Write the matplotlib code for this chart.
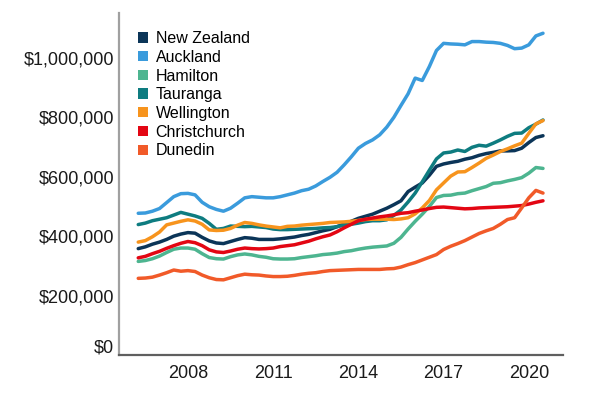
import numpy as np
import matplotlib
matplotlib.use("Agg")
import matplotlib.pyplot as plt
from matplotlib.patches import Patch
from matplotlib.transforms import ScaledTranslation

plt.rcParams['font.family'] = ['Liberation Sans', 'DejaVu Sans']

# ── DATA (median house price, $000, quarterly) ───────────────────────────────
years = np.arange(2006.25, 2020.51, 0.25)

new_zealand = [358, 364, 373, 380, 389, 400, 407, 412, 410, 396, 384, 377, 375, 382, 389,
               395, 393, 389, 389, 389, 391, 394, 397, 402, 406, 412, 418, 423, 432, 441,
               450, 460, 467, 474, 484, 494, 506, 519, 550, 565, 579, 605, 635, 643, 648,
               652, 659, 664, 672, 678, 682, 687, 687, 688, 696, 715, 732, 738]
auckland = [477, 478, 484, 493, 513, 533, 543, 544, 539, 514, 499, 490, 484, 494, 511,
            529, 533, 531, 529, 529, 533, 539, 545, 553, 558, 569, 584, 598, 615, 640,
            667, 696, 712, 724, 741, 767, 800, 840, 879, 932, 924, 971, 1025, 1049, 1047,
            1046, 1044, 1055, 1055, 1053, 1052, 1049, 1042, 1031, 1033, 1044, 1074, 1083]
hamilton = [315, 318, 324, 333, 345, 356, 360, 360, 356, 341, 328, 324, 323, 331, 337,
            340, 337, 332, 329, 324, 323, 323, 324, 328, 331, 334, 338, 340, 343, 348,
            351, 356, 360, 363, 365, 367, 376, 396, 424, 450, 474, 500, 530, 537, 538,
            543, 545, 553, 560, 567, 578, 580, 586, 591, 597, 612, 631, 628]
tauranga = [439, 444, 452, 457, 462, 471, 480, 474, 468, 460, 443, 423, 426, 434, 433,
            432, 433, 431, 429, 424, 422, 422, 423, 424, 425, 426, 428, 429, 432, 437,
            440, 444, 449, 452, 452, 455, 470, 488, 515, 545, 583, 622, 660, 680, 683,
            690, 685, 699, 706, 703, 713, 724, 736, 746, 747, 765, 777, 791]
wellington = [380, 385, 398, 414, 438, 444, 450, 455, 451, 440, 421, 419, 420, 426, 437,
              446, 443, 438, 434, 431, 428, 433, 434, 437, 439, 441, 443, 446, 447, 448,
              450, 453, 456, 457, 457, 457, 456, 458, 462, 475, 495, 520, 556, 579, 602,
              616, 617, 631, 646, 662, 673, 685, 694, 704, 713, 746, 778, 789]
christchurch = [327, 332, 341, 349, 359, 368, 376, 382, 378, 368, 354, 347, 345, 350, 356,
                360, 358, 357, 358, 360, 365, 368, 371, 377, 383, 391, 398, 404, 415, 428,
                440, 452, 457, 461, 465, 468, 472, 477, 479, 484, 488, 493, 497, 498, 496,
                494, 492, 493, 495, 496, 497, 498, 499, 501, 503, 508, 514, 519]
dunedin = [258, 259, 262, 269, 277, 286, 282, 284, 281, 269, 260, 254, 253, 260, 267,
           272, 270, 269, 266, 264, 264, 265, 268, 272, 275, 277, 281, 284, 285, 286,
           287, 288, 288, 288, 288, 290, 291, 296, 304, 311, 320, 329, 338, 355, 366,
           375, 385, 397, 409, 418, 426, 440, 456, 462, 495, 529, 554, 545]

names = ["New Zealand", "Auckland", "Hamilton", "Tauranga", "Wellington",
         "Christchurch", "Dunedin"]
colors = ["#0b3558", "#3a9bdc", "#4db590", "#0e7c80", "#f7941d", "#e30613", "#f15a29"]
series = [new_zealand, auckland, hamilton, tauranga, wellington, christchurch, dunedin]

year_ticks = [2008, 2011, 2014, 2017, 2020]
price_ticks = [0, 200000, 400000, 600000, 800000, 1000000]

# ── PLOT ─────────────────────────────────────────────────────────────────────
fig = plt.figure(figsize=(6.02, 3.99), dpi=100)
ax = fig.add_axes([0.1985, 0.1103, 0.7365, 0.857])

for name, col, vals in zip(names, colors, series):
    ax.plot(years, np.array(vals) * 1000, color=col, lw=2.5, label=name,
            solid_capstyle='round', solid_joinstyle='round')

ax.set_xlim(2005.59, 2021.2)
ax.set_ylim(0, 1151000)
ax.set_xticks(year_ticks)
ax.set_xticklabels([str(y) for y in year_ticks])
ax.set_yticks(price_ticks)
ax.set_yticklabels([f"${v:,.0f}" for v in price_ticks])
ax.tick_params(axis='both', length=0, labelsize=13, colors='#1a1a1a')
ax.tick_params(axis='y', pad=4)
ax.tick_params(axis='x', pad=7)

for s in ['top', 'right']:
    ax.spines[s].set_visible(False)
ax.spines['left'].set_color('#a0a0a0')
ax.spines['left'].set_linewidth(1.6)
ax.spines['bottom'].set_color('#5f5f5f')
ax.spines['bottom'].set_linewidth(1.6)

# the $0 label sits a bit above the axis in the original
zero_lbl = ax.get_yticklabels()[0]
zero_lbl.set_transform(zero_lbl.get_transform() +
                       ScaledTranslation(0, 9 / 100, fig.dpi_scale_trans))

handles = [Patch(facecolor=c, edgecolor='none') for c in colors]
ax.legend(handles, names, loc='upper left', bbox_to_anchor=(0.02, 0.975),
          frameon=False, fontsize=11.5, handlelength=0.6, handleheight=0.6,
          handletextpad=0.5, labelspacing=0.23, borderaxespad=0.2)

fig.savefig("out.png", dpi=100)
